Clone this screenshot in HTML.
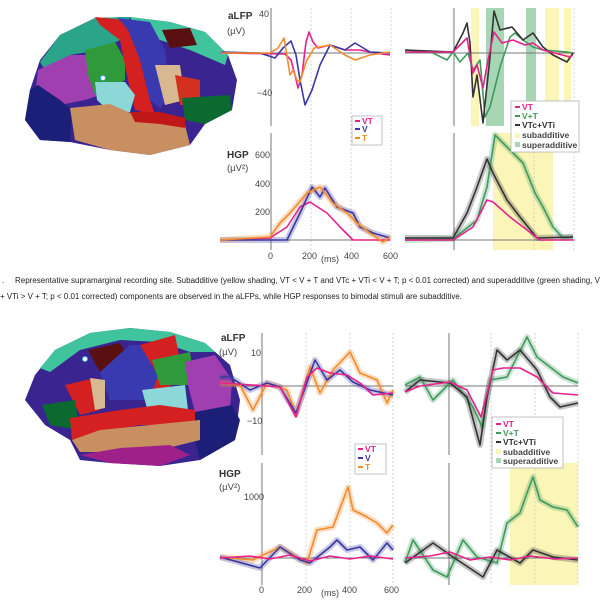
<!DOCTYPE html>
<html><head><meta charset="utf-8"><style>
body{margin:0;background:#fff;width:600px;height:600px;overflow:hidden}
svg{display:block;font-family:"Liberation Sans",sans-serif}
.ax{stroke:#777;stroke-width:1;fill:none}
.gr{stroke:#ccc;stroke-width:.8;stroke-dasharray:2,2;fill:none}
.tk{font-size:9px;fill:#444}
.lb{font-size:10px;font-weight:bold;fill:#333}
.un{font-size:9.5px;fill:#444}
.t{fill:none;stroke-width:1.6;stroke-linejoin:round}
.b{fill:none;stroke-width:6;stroke-linejoin:round;opacity:.28}
.p{stroke:#e8208c}.v{stroke:#3a38a0}.o{stroke:#f58a2a}.k{stroke:#333}.g{stroke:#3f9a5c}
.cap{font-family:"Liberation Sans Narrow","Liberation Sans",sans-serif;font-size:8px;fill:#222}
</style></head><body>
<svg width="600" height="600" viewBox="0 0 600 600">
<!-- TOP BRAIN -->
<g>
<path d="M25,120 L30,90 40,60 60,35 95,18 130,17 170,22 205,32 228,55 237,80 232,110 205,124 190,145 150,155 110,150 70,142 40,140Z" fill="#3a2490"/>
<path d="M40,62 60,35 95,18 130,17 120,40 100,50 70,55 45,70Z" fill="#2aa58a"/>
<path d="M130,17 170,22 205,32 228,55 225,65 190,50 160,40 135,30Z" fill="#3fc49d"/>
<path d="M38,70 70,55 95,55 100,95 85,100 60,105 35,95Z" fill="#a040b0"/>
<path d="M25,120 30,90 38,85 60,100 72,110 70,142 40,140Z" fill="#1c1f78"/>
<path d="M85,50 115,42 125,60 125,80 110,90 95,95 88,75Z" fill="#2f9a3a"/>
<path d="M95,17 125,20 140,60 150,100 155,115 135,110 128,80 120,40 100,25Z" fill="#d42020"/>
<path d="M118,18 150,22 165,50 170,95 160,108 150,100 140,60 128,30Z" fill="#3a3ab0"/>
<path d="M162,30 190,28 197,45 170,48Z" fill="#5a1010"/>
<path d="M155,65 180,65 185,100 165,105Z" fill="#d8b890"/>
<path d="M175,75 200,80 200,105 180,105Z" fill="#d43020"/>
<path d="M182,98 230,95 232,110 205,124 185,120Z" fill="#0a6a30"/>
<path d="M95,82 125,82 135,95 130,112 110,112 97,100Z" fill="#8cd8d8"/>
<path d="M70,108 110,104 135,115 160,120 185,125 190,145 150,155 110,150 75,140Z" fill="#c89060"/>
<path d="M130,112 160,112 185,118 185,128 160,124 135,122Z" fill="#c01818"/>
<circle cx="103" cy="78" r="2.5" fill="#fff" stroke="#3ad" stroke-width="1"/>
</g>
<!-- BOTTOM BRAIN -->
<g>
<path d="M25,400 35,375 55,350 90,333 130,328 170,332 205,343 230,365 240,400 235,440 200,460 160,466 110,463 80,460 70,440 45,425Z" fill="#3a2490"/>
<path d="M40,368 55,350 90,333 130,328 170,332 205,343 215,352 190,352 160,342 120,340 80,350 50,372Z" fill="#3fc49d"/>
<path d="M88,350 120,343 130,360 100,372Z" fill="#5a1010"/>
<path d="M100,372 130,345 150,345 160,380 150,400 110,400Z" fill="#3a3ab0"/>
<path d="M140,345 175,335 180,360 165,400 150,400 158,375Z" fill="#d42020"/>
<path d="M152,360 190,352 195,385 160,385Z" fill="#2f9a3a"/>
<path d="M185,362 215,355 232,380 230,410 195,412 188,385Z" fill="#a040b0"/>
<path d="M195,412 232,405 240,420 235,440 200,460 195,440Z" fill="#1c1f78"/>
<path d="M142,390 185,385 188,410 148,412Z" fill="#8cd8d8"/>
<path d="M65,385 95,378 100,410 80,415Z" fill="#d42020"/>
<path d="M90,378 105,380 105,408 95,410Z" fill="#d8b890"/>
<path d="M42,405 75,400 80,430 50,425Z" fill="#0a6a30"/>
<path d="M70,418 120,410 160,405 195,410 195,425 140,425 100,432 72,440Z" fill="#d42020"/>
<path d="M72,440 100,430 150,425 200,420 200,440 160,450 110,452 80,452Z" fill="#c89060"/>
<path d="M80,455 120,448 170,445 190,455 160,466 110,463Z" fill="#a0208a"/>
<circle cx="85" cy="359" r="2.5" fill="#fff" stroke="#3ad" stroke-width="1"/>
</g>

<!-- TOP PANEL -->
<rect x="471" y="8" width="8" height="118" fill="#fbf5b8"/>
<rect x="486" y="8" width="18" height="118" fill="#a6d6b4"/>
<rect x="526" y="8" width="10" height="118" fill="#a6d6b4"/>
<rect x="545" y="8" width="14" height="118" fill="#fbf5b8"/>
<rect x="564" y="8" width="7" height="118" fill="#fbf5b8"/>
<rect x="493" y="133" width="60" height="117" fill="#fbf5b8"/>
<g class="gr"><line x1="311" y1="8" x2="311" y2="250"/><line x1="351" y1="8" x2="351" y2="250"/><line x1="391" y1="8" x2="391" y2="250"/><line x1="534" y1="8" x2="534" y2="250"/><line x1="574" y1="8" x2="574" y2="250"/></g>
<g class="ax"><line x1="271" y1="8" x2="271" y2="126"/><line x1="271" y1="133" x2="271" y2="250"/><line x1="220" y1="53" x2="390" y2="53"/><line x1="220" y1="240" x2="390" y2="240"/>
<line x1="454" y1="8" x2="454" y2="126"/><line x1="454" y1="133" x2="454" y2="250"/><line x1="405" y1="53" x2="575" y2="53"/><line x1="405" y1="240" x2="575" y2="240"/></g>
<text class="lb" x="228" y="19">aLFP</text><text class="un" x="227" y="34">(µV)</text>
<text class="lb" x="227" y="158">HGP</text><text class="un" x="227" y="171">(µV²)</text>
<text class="tk" x="259" y="17">40</text><text class="tk" x="257" y="96">−40</text>
<text class="tk" x="255" y="158">600</text><text class="tk" x="255" y="187">400</text><text class="tk" x="255" y="215">200</text>
<text class="tk" x="268" y="259">0</text><text class="tk" x="302" y="259">200</text><text class="tk" x="321" y="262" font-size="8">(ms)</text><text class="tk" x="344" y="259">400</text><text class="tk" x="383" y="259">600</text>
<!-- top left aLFP -->
<polyline class="t p" points="222,53 285,54 291,60 295,75 298,88 302,75 306,42 309,32 313,42 318,48 330,45 345,50 360,50 375,53 390,55"/>
<polyline class="t v" points="222,52 260,53 275,58 283,48 291,41 296,55 300,80 305,105 312,90 320,65 330,45 345,50 355,43 370,52 390,53"/>
<polyline class="t o" points="222,53 270,53 278,48 284,38 288,62 290,75 293,70 297,80 300,82 306,62 314,48 330,45 345,55 355,60 370,55 390,52"/>
<!-- top right aLFP -->
<polyline class="t g" points="405,50 433,53 447,60 453,52 460,62 468,53 473,70 480,60 485,117 490,107 500,67 510,37 515,33 523,40 533,47 543,50 567,52 573,53"/>
<polyline class="t k" points="405,50 453,52 463,33 467,23 470,43 473,97 477,75 483,123 490,57 494,11 500,30 512,27 523,40 533,33 543,47 553,55 567,62 573,53"/>
<polyline class="t p" points="405,52 453,52 467,38 473,73 477,65 483,88 488,60 494,32 502,43 513,40 525,45 533,43 543,50 570,57 573,55"/>
<!-- top left HGP -->
<polyline class="b v" points="220,240 270,240 287,240 300,213 312,187 320,197 325,188 337,207 353,213 360,227 373,233 390,238"/>
<polyline class="b o" points="220,240 270,237 280,223 290,213 307,193 320,187 333,203 347,213 357,223 370,233 383,242 390,237"/>
<polyline class="t p" points="220,240 270,238 287,227 300,207 310,202 327,213 340,227 353,240 390,240"/>
<polyline class="t v" points="220,240 270,240 287,240 300,213 312,187 320,197 325,188 337,207 353,213 360,227 373,233 390,238"/>
<polyline class="t o" points="220,240 270,237 280,223 290,213 307,193 320,187 333,203 347,213 357,223 370,233 383,242 390,237"/>
<!-- top right HGP -->
<polyline class="b g" points="405,240 453,239 477,220 487,187 495,135 503,143 513,153 523,163 535,193 543,207 553,227 563,238 573,237"/>
<polyline class="b k" points="405,238 453,238 467,213 477,187 487,159 493,173 507,200 520,217 537,238 573,237"/>
<polyline class="t g" points="405,240 453,239 477,220 487,187 495,135 503,143 513,153 523,163 535,193 543,207 553,227 563,238 573,237"/>
<polyline class="t k" points="405,238 453,238 467,213 477,187 487,159 493,173 507,200 520,217 537,238 573,237"/>
<polyline class="t p" points="405,240 453,240 473,227 487,200 493,202 510,217 527,230 540,240 573,240"/>
<!-- legends top -->
<rect x="352" y="116" width="30" height="29" fill="#fff" stroke="#aaa" stroke-width=".7"/>
<g font-size="8.5" font-weight="bold"><rect x="355" y="120" width="5" height="2" fill="#e8208c"/><text x="362" y="124" fill="#e8208c">VT</text>
<rect x="355" y="128" width="5" height="2" fill="#3a38a0"/><text x="362" y="132" fill="#3a38a0">V</text>
<rect x="355" y="137" width="5" height="2" fill="#f58a2a"/><text x="362" y="141" fill="#f58a2a">T</text></g>
<rect x="511" y="101" width="68" height="51" fill="#fff" stroke="#aaa" stroke-width=".7"/>
<g font-size="8.5" font-weight="bold"><rect x="515" y="106" width="5" height="2" fill="#e8208c"/><text x="522" y="110" fill="#e8208c">VT</text>
<rect x="515" y="115" width="5" height="2" fill="#3f9a5c"/><text x="522" y="119" fill="#3f9a5c">V+T</text>
<rect x="515" y="124" width="5" height="2" fill="#333"/><text x="522" y="128" fill="#333">VTc+VTi</text>
<rect x="515" y="133" width="5" height="5" fill="#fbf5b8"/><text x="522" y="138" fill="#444">subadditive</text>
<rect x="515" y="142" width="5" height="5" fill="#a6d6b4"/><text x="522" y="148" fill="#444">superadditive</text></g>

<!-- CAPTION -->
<text class="cap" x="2" y="283">.</text>
<text class="cap" x="15" y="283" textLength="585" lengthAdjust="spacingAndGlyphs">Representative supramarginal recording site. Subadditive (yellow shading, VT &lt; V + T and VTc + VTi &lt; V + T; p &lt; 0.01 corrected) and superadditive (green shading, V</text>
<text class="cap" x="0" y="299" textLength="462" lengthAdjust="spacingAndGlyphs">+ VTi &gt; V + T; p &lt; 0.01 corrected) components are observed in the aLFPs, while HGP responses to bimodal stimuli are subadditive.</text>

<!-- BOTTOM PANEL -->
<rect x="510" y="463" width="68" height="122" fill="#fbf5b8"/>
<g class="gr"><line x1="306" y1="333" x2="306" y2="585"/><line x1="350" y1="333" x2="350" y2="585"/><line x1="393" y1="333" x2="393" y2="585"/><line x1="491" y1="333" x2="491" y2="585"/><line x1="535" y1="333" x2="535" y2="585"/><line x1="578" y1="333" x2="578" y2="585"/></g>
<g class="ax"><line x1="262" y1="333" x2="262" y2="455"/><line x1="262" y1="463" x2="262" y2="585"/><line x1="220" y1="386" x2="393" y2="386"/><line x1="220" y1="558" x2="393" y2="558"/>
<line x1="449" y1="333" x2="449" y2="455"/><line x1="449" y1="463" x2="449" y2="585"/><line x1="405" y1="386" x2="578" y2="386"/><line x1="405" y1="558" x2="578" y2="558"/></g>
<text class="lb" x="221" y="341">aLFP</text><text class="un" x="219" y="355">(µV)</text>
<text class="lb" x="219" y="477">HGP</text><text class="un" x="219" y="490">(µV²)</text>
<text class="tk" x="251" y="356">10</text><text class="tk" x="247" y="424">−10</text><text class="tk" x="244" y="500">1000</text>
<text class="tk" x="259" y="593">0</text><text class="tk" x="297" y="593">200</text><text class="tk" x="321" y="596" font-size="8">(ms)</text><text class="tk" x="342" y="593">400</text><text class="tk" x="384" y="593">600</text>
<!-- bottom left aLFP -->
<polyline class="b o" points="220,383 240,385 253,410 267,383 287,390 296,415 310,367 320,393 333,370 350,352 360,373 377,380 387,403 393,390"/>
<polyline class="b v" points="220,377 230,377 250,390 267,383 280,387 296,413 315,360 327,380 340,370 353,382 370,390 393,395"/>
<polyline class="t o" points="220,383 240,385 253,410 267,383 287,390 296,415 310,367 320,393 333,370 350,352 360,373 377,380 387,403 393,390"/>
<polyline class="t v" points="220,377 230,377 250,390 267,383 280,387 296,413 315,360 327,380 340,370 353,382 370,390 393,395"/>
<polyline class="t p" points="220,383 253,385 280,387 296,417 307,377 317,368 330,373 347,375 360,383 373,395 393,393"/>
<!-- bottom right aLFP -->
<polyline class="b g" points="405,385 420,377 433,400 453,380 473,407 482,427 490,380 507,377 527,337 537,357 550,367 563,377 578,383"/>
<polyline class="b k" points="405,392 420,380 450,383 467,397 480,445 487,397 497,350 507,360 520,350 537,370 550,397 560,407 578,403"/>
<polyline class="t g" points="405,385 420,377 433,400 453,380 473,407 482,427 490,380 507,377 527,337 537,357 550,367 563,377 578,383"/>
<polyline class="t k" points="405,392 420,380 450,383 467,397 480,445 487,397 497,350 507,360 520,350 537,370 550,397 560,407 578,403"/>
<polyline class="t p" points="405,392 420,386 450,382 467,390 481,417 493,370 503,368 520,368 537,377 553,393 578,395"/>
<!-- bottom left HGP -->
<polyline class="b o" points="220,557 253,560 280,547 307,563 317,530 333,527 348,487 353,510 367,517 377,523 387,533 393,525"/>
<polyline class="b v" points="220,557 260,568 280,547 300,560 310,563 330,547 337,540 347,550 360,547 373,560 387,543 393,550"/>
<polyline class="t o" points="220,557 253,560 280,547 307,563 317,530 333,527 348,487 353,510 367,517 377,523 387,533 393,525"/>
<polyline class="t v" points="220,557 260,568 280,547 300,560 310,563 330,547 337,540 347,550 360,547 373,560 387,543 393,550"/>
<polyline class="t p" points="220,558 250,556 270,559 290,555 310,561 330,556 350,559 370,556 393,559"/>
<!-- bottom right HGP -->
<polyline class="b g" points="405,563 413,540 433,570 447,577 463,540 477,557 497,563 507,523 520,513 527,493 533,477 540,500 553,507 567,510 578,527"/>
<polyline class="b k" points="405,563 433,543 453,557 483,577 497,550 520,563 533,550 553,557 578,560"/>
<polyline class="t g" points="405,563 413,540 433,570 447,577 463,540 477,557 497,563 507,523 520,513 527,493 533,477 540,500 553,507 567,510 578,527"/>
<polyline class="t k" points="405,563 433,543 453,557 483,577 497,550 520,563 533,550 553,557 578,560"/>
<polyline class="t p" points="405,558 430,556 450,552 470,560 490,557 510,560 530,556 555,559 578,558"/>
<!-- legends bottom -->
<rect x="355" y="444" width="31" height="30" fill="#fff" stroke="#aaa" stroke-width=".7"/>
<g font-size="8.5" font-weight="bold"><rect x="358" y="448" width="5" height="2" fill="#e8208c"/><text x="365" y="452" fill="#e8208c">VT</text>
<rect x="358" y="457" width="5" height="2" fill="#3a38a0"/><text x="365" y="461" fill="#3a38a0">V</text>
<rect x="358" y="466" width="5" height="2" fill="#f58a2a"/><text x="365" y="470" fill="#f58a2a">T</text></g>
<rect x="492" y="417" width="71" height="51" fill="#fff" stroke="#aaa" stroke-width=".7"/>
<g font-size="8.5" font-weight="bold"><rect x="496" y="423" width="5" height="2" fill="#e8208c"/><text x="503" y="427" fill="#e8208c">VT</text>
<rect x="496" y="432" width="5" height="2" fill="#3f9a5c"/><text x="503" y="436" fill="#3f9a5c">V+T</text>
<rect x="496" y="441" width="5" height="2" fill="#333"/><text x="503" y="445" fill="#333">VTc+VTi</text>
<rect x="496" y="449" width="5" height="5" fill="#fbf5b8"/><text x="503" y="455" fill="#444">subadditive</text>
<rect x="496" y="458" width="5" height="5" fill="#a6d6b4"/><text x="503" y="464" fill="#444">superadditive</text></g>
</svg>
</body></html>
